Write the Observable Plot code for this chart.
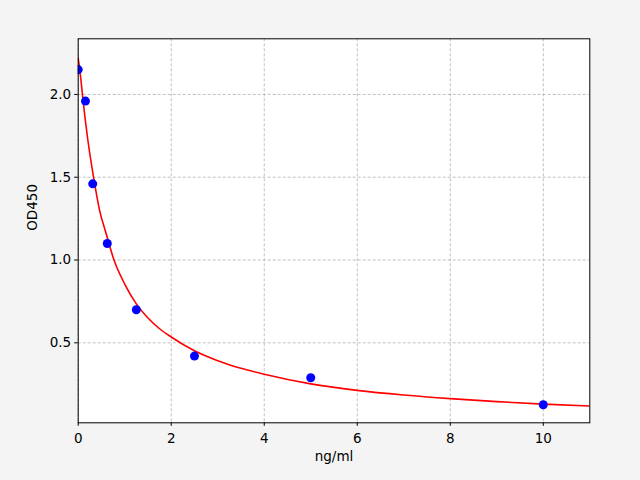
<!DOCTYPE html>
<html>
<head>
<meta charset="utf-8">
<script src="https://cdn.jsdelivr.net/npm/d3@7"></script>
<script src="https://cdn.jsdelivr.net/npm/@observablehq/plot@0.6"></script>
<style>
  html, body { margin: 0; padding: 0; background: #f4f4f4; }
  #chart { width: 640px; height: 480px; }
</style>
</head>
<body>
<div id="chart"></div>
<script>
// Standard points
const concentrations = [0, 0.15625, 0.3125, 0.625, 1.25, 2.5, 5, 10];
const od450 = [2.15, 1.96, 1.46, 1.10, 0.70, 0.42, 0.289, 0.126];

// Fitted curve
const curveX = [0, 0.05, 0.1, 0.2, 0.33, 0.46, 0.6, 0.77, 1.0, 1.25, 1.5, 1.75, 2.0, 2.5, 3.0, 3.5, 4, 5, 6, 7, 8, 9, 10, 11];
const curveY = [2.22, 2.11, 1.975, 1.74, 1.50, 1.30, 1.16, 1.00, 0.855, 0.735, 0.65, 0.585, 0.535, 0.452, 0.392, 0.346, 0.310, 0.252, 0.213, 0.185, 0.163, 0.145, 0.130, 0.118];

const xTicks = [0, 2, 4, 6, 8, 10];
const yTicks = [0.5, 1.0, 1.5, 2.0];
const xLabel = "ng/ml";
const yLabel = "OD450";

const points = concentrations.map((c, i) => ({x: c, y: od450[i]}));
const curve = curveX.map((c, i) => ({x: c, y: curveY[i]}));

const chart = Plot.plot({
  width: 640,
  height: 480,
  marginLeft: 77.7,
  marginRight: 50.7,
  marginTop: 38.3,
  marginBottom: 57.7,
  style: {fontFamily: "DejaVu Sans", fontSize: "13.5px", background: "#f4f4f4", color: "black"},
  x: {domain: [0, 11]},
  y: {domain: [0.017, 2.336]},
  marks: [
    Plot.frame({fill: "white", stroke: null}),
    Plot.gridX(xTicks, {stroke: "#b0b0b0", strokeOpacity: 1, strokeWidth: 0.8, strokeDasharray: "3,2"}),
    Plot.gridY(yTicks, {stroke: "#b0b0b0", strokeOpacity: 1, strokeWidth: 0.8, strokeDasharray: "3,2"}),
    Plot.line(curve, {x: "x", y: "y", stroke: "#ff0000", strokeWidth: 1.6, curve: "monotone-x", clip: true}),
    Plot.dot(points, {x: "x", y: "y", r: 4.5, fill: "#0000ff", stroke: null, clip: true}),
    Plot.frame({stroke: "black", strokeWidth: 1}),
    Plot.axisX({ticks: xTicks, tickSize: 3.5, tickPadding: 7, label: null, tickFormat: d3.format("d")}),
    Plot.axisY({ticks: yTicks, tickSize: 3.5, tickPadding: 3.5, label: null, tickFormat: d3.format(".1f")}),
    Plot.text([xLabel], {frameAnchor: "bottom", dy: 38, text: d => d, fontSize: 13.5}),
    Plot.text([yLabel], {frameAnchor: "left", dx: -46, rotate: -90, text: d => d, fontSize: 13.5})
  ]
});
document.getElementById("chart").appendChild(chart);
</script>
</body>
</html>
